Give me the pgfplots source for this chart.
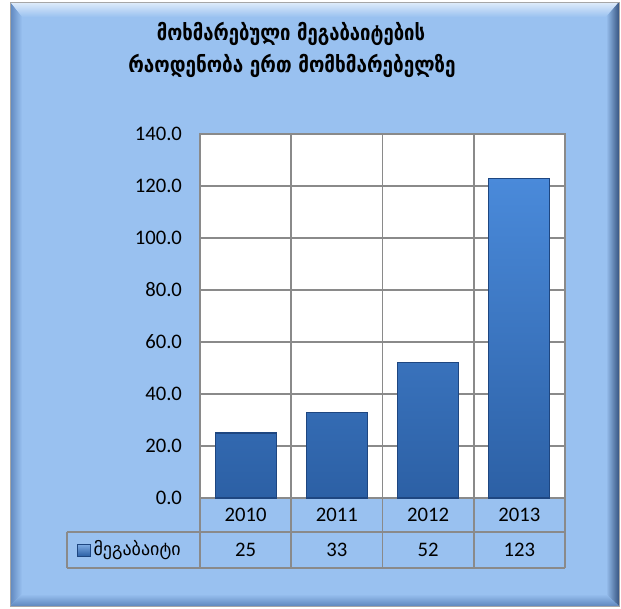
\documentclass[border=0pt]{standalone}
\usepackage{pgfplots}
\pgfplotsset{compat=1.18}
\usepackage{fontspec}
\setmainfont{Carlito}
\newfontfamily\geo[Script=Georgian]{DejaVu Sans}
\definecolor{bgblue}{RGB}{153,193,240}
\definecolor{bevlight}{RGB}{190,215,246}
\definecolor{bevdark}{RGB}{95,135,190}
\definecolor{bevdarker}{RGB}{55,85,130}
\definecolor{gridgray}{RGB}{138,138,138}
\definecolor{bartop}{RGB}{74,138,218}
\definecolor{barbot}{RGB}{44,96,165}
\definecolor{barline}{RGB}{30,70,128}
\begin{document}
\begin{tikzpicture}
\begin{scope}[x=0.75pt,y=-0.75pt]
  % page
  \fill[white] (0,0) rectangle (621,608);
  % frame
  \fill[bgblue] (10,2) rectangle (619,606);
  \shade[top color=white!70!bgblue, bottom color=bgblue] (10,2) -- (619,2) -- (606,17) -- (22,17) -- cycle;
  \shade[left color=bevdark, right color=bgblue] (10,2) -- (22,17) -- (22,594) -- (10,606) -- cycle;
  \shade[left color=bgblue, right color=bevdarker] (606,17) -- (619,2) -- (619,606) -- (606,594) -- cycle;
  \shade[top color=bgblue, bottom color=bevdark] (22,594) -- (606,594) -- (619,606) -- (10,606) -- cycle;
  \draw[gray!70, line width=0.6pt] (10,2) rectangle (619,606);
  % title
  \node[font=\geo\bfseries\fontsize{16.5pt}{19pt}\selectfont, text=black, xscale=0.84] at (291,34) {მოხმარებული მეგაბაიტების};
  \node[font=\geo\bfseries\fontsize{16.5pt}{19pt}\selectfont, text=black, xscale=0.86] at (292,66) {რაოდენობა ერთ მომხმარებელზე};
\end{scope}
\begin{axis}[
  at={(150pt,-373.5pt)}, anchor=south west,
  scale only axis, width=273.75pt, height=273pt,
  xmin=-0.5, xmax=3.5, ymin=0, ymax=140,
  axis background/.style={fill=white},
  axis line style={gridgray, line width=1.3pt},
  xtick={0,1,2,3}, xticklabels={2010,2011,2012,2013},
  minor xtick={-0.5,0.5,1.5,2.5,3.5},
  ytick={0,20,...,140},
  xminorgrids, ymajorgrids,
  grid style={gridgray, line width=1.3pt},
  minor grid style={gridgray, line width=1.3pt},
  tick style={draw=none},
  major tick length=0pt, minor tick length=0pt,
  /pgf/number format/assume math mode=true,
  yticklabel style={font=\fontsize{15.5pt}{18pt}\selectfont, anchor=east, xshift=-10pt,
    /pgf/number format/.cd, fixed, fixed zerofill, precision=1},
  xticklabel style={font=\fontsize{15.5pt}{18pt}\selectfont, anchor=center, yshift=-12.75pt},
  clip=false,
]
\addplot[ybar, bar width=45.75pt, draw=barline, line width=0.8pt,
  top color=bartop, bottom color=barbot] coordinates {(0,25) (1,33) (2,52) (3,123)};
% data table lines
\draw[gridgray, line width=1.3pt]
  (axis cs:-0.5,0) -- ([yshift=-52.5pt]axis cs:-0.5,0)
  (axis cs:0.5,0) -- ([yshift=-52.5pt]axis cs:0.5,0)
  (axis cs:1.5,0) -- ([yshift=-52.5pt]axis cs:1.5,0)
  (axis cs:2.5,0) -- ([yshift=-52.5pt]axis cs:2.5,0)
  (axis cs:3.5,0) -- ([yshift=-52.5pt]axis cs:3.5,0)
  ([xshift=-99.75pt,yshift=-25.5pt]axis cs:-0.5,0) -- ([yshift=-25.5pt]axis cs:3.5,0)
  ([xshift=-99.75pt,yshift=-52.5pt]axis cs:-0.5,0) -- ([yshift=-52.5pt]axis cs:3.5,0)
  ([xshift=-99.75pt,yshift=-25.5pt]axis cs:-0.5,0) -- ([xshift=-99.75pt,yshift=-52.5pt]axis cs:-0.5,0);
\foreach \i/\v in {0/25,1/33,2/52,3/123}{
  \edef\tmp{\noexpand\node[font=\noexpand\fontsize{15.5pt}{18pt}\noexpand\selectfont] at ([yshift=-39pt]axis cs:\i,0) {\v};}
  \tmp
}
\shade[top color=bartop!70!white, bottom color=barbot, draw=barline, line width=0.5pt]
  ([xshift=-92pt,yshift=-34.5pt]axis cs:-0.5,0) rectangle ([xshift=-82pt,yshift=-43.5pt]axis cs:-0.5,0);
\node[font=\geo\fontsize{13.5pt}{15pt}\selectfont, anchor=west, inner sep=1pt] at ([xshift=-81pt,yshift=-39pt]axis cs:-0.5,0) {მეგაბაიტი};
\end{axis}
\end{tikzpicture}
\end{document}
